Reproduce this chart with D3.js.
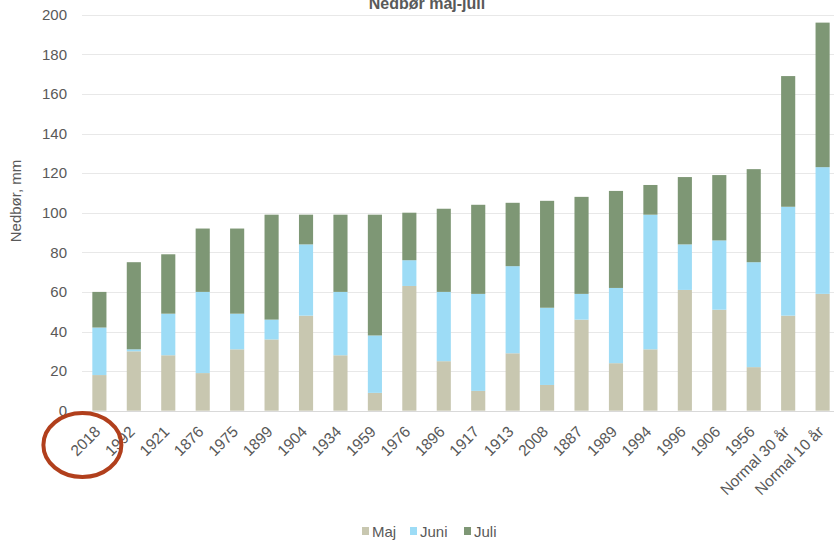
<!DOCTYPE html>
<html>
<head>
<meta charset="UTF-8">
<title>Nedbør maj-juli</title>
<style>
  html, body { margin: 0; padding: 0; background: #fff; }
  svg { display: block; font-family: "Liberation Sans", Arial, sans-serif; }
</style>
</head>
<body>
<svg id="chart" width="834" height="541"></svg>
<script src="https://cdn.jsdelivr.net/npm/d3@7"></script>
<script>
// data
var years = ["2018", "1992", "1921", "1876", "1975", "1899", "1904", "1934", "1959", "1976", "1896",
  "1917", "1913", "2008", "1887", "1989", "1994", "1996", "1906", "1956", "Normal 30 år", "Normal 10 år"];
var maj  = [18, 30, 28, 19, 31, 36, 48, 28,  9, 63, 25, 10, 29, 13, 46, 24, 31, 61, 51, 22, 48, 59];
var juni = [24,  1, 21, 41, 18, 10, 36, 32, 29, 13, 35, 49, 44, 39, 13, 38, 68, 23, 35, 53, 55, 64];
var juli = [18, 44, 30, 32, 43, 53, 15, 39, 61, 24, 42, 45, 32, 54, 49, 49, 15, 34, 33, 47, 66, 73];
var seriesNames = ["Maj", "Juni", "Juli"];
var colors = ["#c8c7b0", "#9ddcf6", "#7e9775"];
var yTicks = [0, 20, 40, 60, 80, 100, 120, 140, 160, 180, 200];

var rows = years.map(function(y, i) {
  return { year: y, Maj: maj[i], Juni: juni[i], Juli: juli[i] };
});
var stack = d3.stack().keys(seriesNames)(rows);

var svg = d3.select("#chart");
var plotLeft = 82, plotRight = 840, plotTop = 14.7, plotBottom = 410.7;

var x = d3.scaleBand().domain(years).range([plotLeft, plotRight]).paddingInner(0.59).paddingOuter(0.3);
var y = d3.scaleLinear().domain([0, 200]).range([plotBottom, plotTop]);

// gridlines
svg.append("g").selectAll("line").data(yTicks).join("line")
  .attr("x1", plotLeft).attr("x2", 834)
  .attr("y1", function(d) { return Math.round(y(d)) + 0.5; })
  .attr("y2", function(d) { return Math.round(y(d)) + 0.5; })
  .attr("stroke", function(d) { return d === 0 ? "#d9d9d9" : "#e8e8e8"; })
  .attr("stroke-width", 1.2);

// y axis labels
var yAxis = svg.append("g").attr("transform", "translate(" + 67 + ",0)")
  .call(d3.axisLeft(y).tickValues(yTicks).tickSize(0).tickPadding(0));
yAxis.select(".domain").remove();
yAxis.selectAll("text").attr("fill", "#595959").style("font-size", "15px")
  .style("font-family", "Liberation Sans, Arial, sans-serif");

// bars
svg.append("g").selectAll("g").data(stack).join("g")
  .attr("fill", function(d, i) { return colors[i]; })
  .selectAll("rect").data(function(d) { return d; }).join("rect")
  .attr("x", function(d) { return x(d.data.year); })
  .attr("width", x.bandwidth())
  .attr("y", function(d) { return y(d[1]); })
  .attr("height", function(d) { return y(d[0]) - y(d[1]); });

// x axis labels
var xAxis = svg.append("g").attr("transform", "translate(0," + (plotBottom + 4) + ")")
  .call(d3.axisBottom(x).tickSize(0).tickPadding(0));
xAxis.select(".domain").remove();
xAxis.selectAll("text")
  .attr("fill", "#595959").style("font-size", "15.5px")
  .style("font-family", "Liberation Sans, Arial, sans-serif")
  .attr("text-anchor", "end")
  .attr("dy", 0)
  .attr("y", 0)
  .attr("transform", "translate(2,18) rotate(-45)");

// y axis title
svg.append("text")
  .attr("transform", "translate(21,201) rotate(-90)")
  .attr("text-anchor", "middle")
  .attr("fill", "#595959").style("font-size", "15px")
  .text("Nedbør, mm");

// title (cut at top)
svg.append("text")
  .attr("x", 427).attr("y", 9)
  .attr("text-anchor", "middle")
  .attr("fill", "#595959").style("font-size", "16px").style("font-weight", "bold")
  .text("Nedbør maj-juli");

// legend
var legendX = [362, 410, 464];
var legend = svg.append("g").selectAll("g").data(seriesNames).join("g")
  .attr("transform", function(d, i) { return "translate(" + legendX[i] + ",527)"; });
legend.append("rect").attr("width", 7).attr("height", 8)
  .attr("fill", function(d, i) { return colors[i]; });
legend.append("text").attr("x", 10).attr("y", 9.5)
  .attr("fill", "#595959").style("font-size", "15px")
  .text(function(d) { return d; });

// highlight circle round 2018
svg.append("ellipse")
  .attr("cx", x("2018") + x.bandwidth() / 2 - 17).attr("cy", 445)
  .attr("rx", 39).attr("ry", 32)
  .attr("fill", "none").attr("stroke", "#b13f1c").attr("stroke-width", 4);
</script>
</body>
</html>
